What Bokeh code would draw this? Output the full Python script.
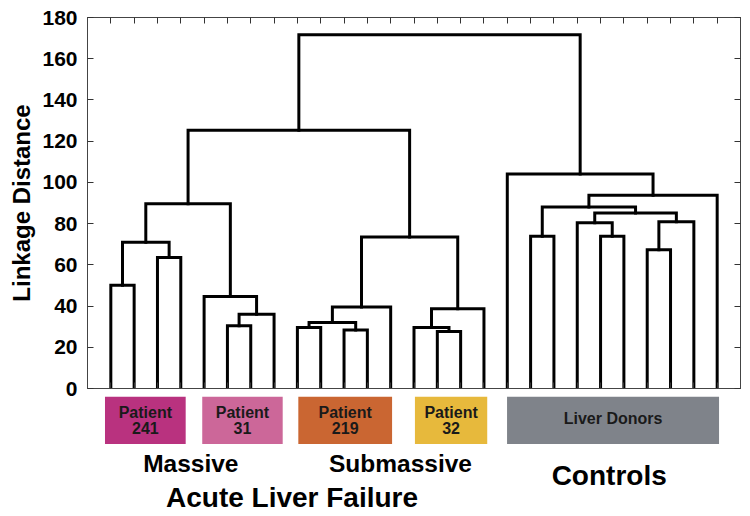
from bokeh.plotting import figure
from bokeh.models import Range1d, LinearAxis, FixedTicker, CustomLabelingPolicy
from bokeh.layouts import column
from bokeh.embed import file_html
from bokeh.resources import INLINE
from bokeh.core.properties import value

# ---------------- data ----------------
n_leaves = 27  # leaves 1..27 in display order
# merges (scipy-like): node ids 1..27 = leaves, 28.. = clusters in merge order
merge_left = [1, 3, 28, 6, 31, 5, 30, 9, 11, 35, 37, 15, 14, 40, 38, 34,
              19, 22, 21, 24, 47, 46, 44, 50, 18, 43]
merge_right = [2, 4, 29, 7, 8, 32, 33, 10, 12, 36, 13, 16, 39, 17, 41, 42,
               20, 23, 45, 25, 26, 48, 49, 27, 51, 52]
merge_height = [50.1, 63.5, 71.0, 30.4, 36.0, 44.6, 89.6, 29.6, 28.4, 32.0,
                39.6, 27.6, 29.6, 38.7, 73.5, 125.3, 73.9, 73.9, 80.4, 67.3,
                80.9, 85.2, 88.1, 93.8, 104.1, 171.6]

y_ticks = [0, 20, 40, 60, 80, 100, 120, 140, 160, 180]

group_labels = ["Patient\n241", "Patient\n31", "Patient\n219", "Patient\n32", "Liver Donors"]
group_x0 = [0.75, 4.92, 9.04, 14.04, 17.99]
group_x1 = [4.21, 8.37, 13.06, 17.14, 27.08]
group_colors = ["#B9327F", "#CC6799", "#CA6632", "#E7B93C", "#7F838A"]

class_labels = ["Massive", "Submassive", "Controls", "Acute Liver Failure"]

FONT = "Liberation Sans"

# ---------------- dendrogram figure ----------------
p = figure(frame_width=653, frame_height=371,
           x_range=Range1d(0, 28), y_range=Range1d(0, 180),
           output_backend="svg", toolbar_location=None,
           min_border_left=87, min_border_right=4, min_border_top=17, min_border_bottom=12)
p.grid.visible = False
p.outline_line_color = "#444444"
p.outline_line_width = 1
p.background_fill_color = "white"
p.border_fill_color = "white"

leaf_ticks = list(range(1, n_leaves + 1))

no_labels = CustomLabelingPolicy(code="""
for (let i = 0; i < indices.size; i++) { indices.unset(i) }
return indices
""")

def style_axis(ax, show_labels):
    ax.major_tick_in = 6
    ax.major_tick_out = 0
    ax.minor_tick_line_color = None
    ax.major_tick_line_color = "#333333"
    ax.major_tick_line_width = 1
    ax.axis_line_color = "#444444"
    ax.axis_line_width = 1
    if not show_labels:
        ax.major_label_policy = no_labels
        ax.major_label_text_font_size = "0px"
        ax.major_label_standoff = 0

xa = p.xaxis[0]
xa.ticker = FixedTicker(ticks=leaf_ticks)
style_axis(xa, False)

ya = p.yaxis[0]
ya.ticker = FixedTicker(ticks=y_ticks)
style_axis(ya, True)
ya.major_label_text_font = FONT
ya.major_label_text_font_style = "bold"
ya.major_label_text_font_size = "21px"
ya.major_label_text_color = "black"
ya.major_label_standoff = 10
ya.axis_label = "Linkage Distance"
ya.axis_label_text_font = FONT
ya.axis_label_text_font_style = "bold"
ya.axis_label_text_font_size = "24px"
ya.axis_label_text_color = "black"
ya.axis_label_standoff = 4

top_ax = LinearAxis(ticker=FixedTicker(ticks=leaf_ticks))
style_axis(top_ax, False)
p.add_layout(top_ax, "above")
right_ax = LinearAxis(ticker=FixedTicker(ticks=y_ticks))
style_axis(right_ax, False)
p.add_layout(right_ax, "right")

# build dendrogram links from the merge table
pos = {i: float(i) for i in range(1, n_leaves + 1)}
hgt = {i: 0.0 for i in range(1, n_leaves + 1)}
xs, ys = [], []
for k, (a, b, h) in enumerate(zip(merge_left, merge_right, merge_height)):
    node = n_leaves + 1 + k
    xs.append([pos[a], pos[a], pos[b], pos[b]])
    ys.append([hgt[a], h, h, hgt[b]])
    pos[node] = (pos[a] + pos[b]) / 2.0
    hgt[node] = h
p.multi_line(xs, ys, line_color="black", line_width=3, line_join="miter", line_cap="square")

# ---------------- group legend figure ----------------
H = 120
q = figure(frame_width=653, frame_height=H,
           x_range=p.x_range, y_range=Range1d(H, 0),
           output_backend="svg", toolbar_location=None,
           x_axis_location=None, y_axis_location=None,
           min_border_left=87, min_border_right=4, min_border_top=0, min_border_bottom=0,
           margin=(-4, 0, 0, 0))
q.grid.visible = False
q.outline_line_color = None
q.background_fill_color = None
q.border_fill_color = None

q.quad(left=group_x0, right=group_x1, top=[0] * len(group_x0), bottom=[47.5] * len(group_x0),
       fill_color=group_colors, line_color=None)

cx = [(a + b) / 2 for a, b in zip(group_x0, group_x1)]
t_x, t_y, t_s = [], [], []
for c, lab in zip(cx, group_labels):
    lines = lab.split("\n")
    if len(lines) == 2:
        t_x += [c, c]
        t_y += [16, 31.5]
        t_s += lines
    else:
        t_x.append(c)
        t_y.append(21.5)
        t_s.append(lines[0])
q.text(x=t_x, y=t_y, text=t_s, text_align="center", text_baseline="alphabetic",
       text_font=value(FONT), text_font_style="bold", text_font_size="16px",
       text_color="#1a1a1a")

cl_x = [4.43, 13.42, 22.37, 8.77]
cl_y = [67.3, 67.3, 79, 101]
cl_size = ["24.5px", "24.5px", "28px", "28px"]
for lx, ly, ls, lt in zip(cl_x, cl_y, cl_size, class_labels):
    q.text(x=[lx], y=[ly], text=[lt], text_align="center", text_baseline="alphabetic",
           text_font=value(FONT), text_font_style="bold", text_font_size=ls,
           text_color="black")

layout = column(p, q, spacing=0)
open("out.html", "w").write(file_html(layout, INLINE))
